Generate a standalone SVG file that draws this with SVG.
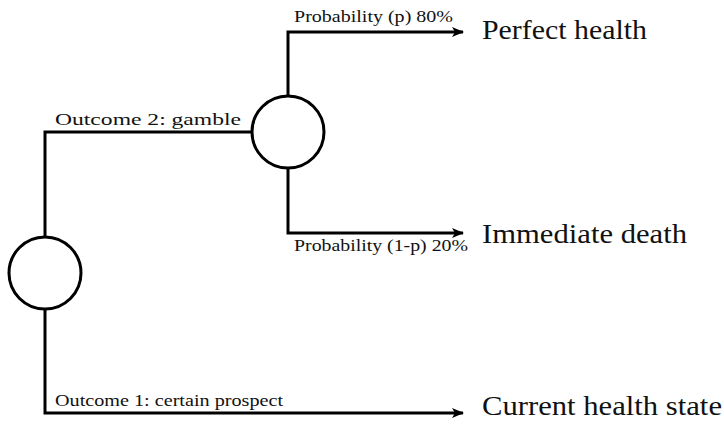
<svg xmlns="http://www.w3.org/2000/svg" width="724" height="430" viewBox="0 0 724 430">
<style>
.ln{fill:none;stroke:#000;stroke-width:3}
.nd{fill:#fff;stroke:#000;stroke-width:3}
.sm{font-family:"Liberation Serif","DejaVu Serif",serif;font-size:16.5px;fill:#111}
.lg{font-family:"Liberation Serif","DejaVu Serif",serif;font-size:28px;fill:#111}
</style>
<defs>
<marker id="ah" markerWidth="12" markerHeight="10" refX="11" refY="5" orient="auto" markerUnits="userSpaceOnUse">
<path d="M0,0 L12,5 L0,10 L3,5 Z" fill="#000"/>
</marker>
</defs>
<g id="connectors">
<path class="ln" d="M45,237 V132 H252"/>
<path class="ln" d="M288,96 V32 H463" marker-end="url(#ah)"/>
<path class="ln" d="M288,168 V233 H463" marker-end="url(#ah)"/>
<path class="ln" d="M45,309 V413 H463" marker-end="url(#ah)"/>
<text class="sm" x="55" y="125" textLength="186" lengthAdjust="spacingAndGlyphs">Outcome 2: gamble</text>
<text class="sm" x="294" y="22" textLength="159" lengthAdjust="spacingAndGlyphs">Probability (p) 80%</text>
<text class="sm" x="294" y="251" textLength="174" lengthAdjust="spacingAndGlyphs">Probability (1-p) 20%</text>
<text class="sm" x="55" y="406" textLength="228" lengthAdjust="spacingAndGlyphs">Outcome 1: certain prospect</text>
</g>
<g id="chance1"><circle class="nd" cx="45" cy="273" r="36"/></g>
<g id="chance2"><circle class="nd" cx="288" cy="132" r="36"/></g>
<g id="perfect"><text class="lg" x="482" y="39" textLength="165" lengthAdjust="spacingAndGlyphs">Perfect health</text></g>
<g id="death"><text class="lg" x="482" y="243" textLength="205" lengthAdjust="spacingAndGlyphs">Immediate death</text></g>
<g id="current"><text class="lg" x="482" y="415" textLength="240" lengthAdjust="spacingAndGlyphs">Current health state</text></g>
</svg>
